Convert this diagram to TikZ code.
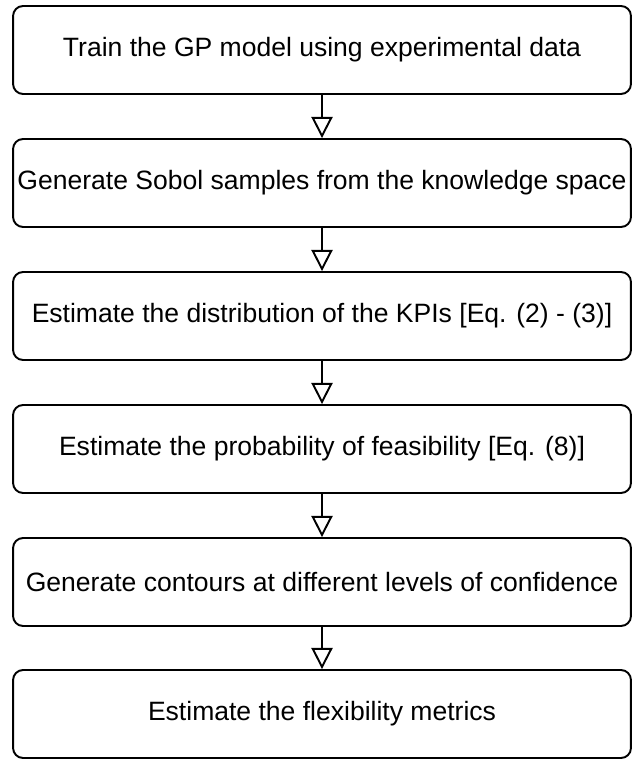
\documentclass[tikz,border=0pt]{standalone}
\usepackage{fontspec}
\setmainfont{Liberation Sans}
\usetikzlibrary{arrows.meta}

\tikzset{
  stepbox/.style={draw, rounded corners=0.2cm, line width=1.1pt,
    minimum width=12.36cm, minimum height=1.76cm, inner sep=0pt,
    font=\fontsize{15.1}{18}\selectfont},
  flow/.style={line width=1.1pt,
    -{Triangle[open, length=12pt, width=12pt]}}
}

\begin{document}
\begin{tikzpicture}[x=0.02cm, y=-0.02cm]
  \useasboundingbox (0,0) rectangle (632,759);

  \node[stepbox] (train) at (322, 50) {Train the GP model using experimental data};
  \node[stepbox] (sobol) at (322, 183) {Generate Sobol samples from the knowledge space};
  \node[stepbox] (kpi)   at (322, 316) {Estimate the distribution of the KPIs [Eq. (2) - (3)]};
  \node[stepbox] (feas)  at (322, 449) {Estimate the probability of feasibility [Eq. (8)]};
  \node[stepbox] (cont)  at (322, 582) {Generate contours at different levels of confidence};
  \node[stepbox] (flex)  at (322, 714) {Estimate the flexibility metrics};

  \draw[flow] (train) -- (sobol);
  \draw[flow] (sobol) -- (kpi);
  \draw[flow] (kpi) -- (feas);
  \draw[flow] (feas) -- (cont);
  \draw[flow] (cont) -- (flex);
\end{tikzpicture}
\end{document}
